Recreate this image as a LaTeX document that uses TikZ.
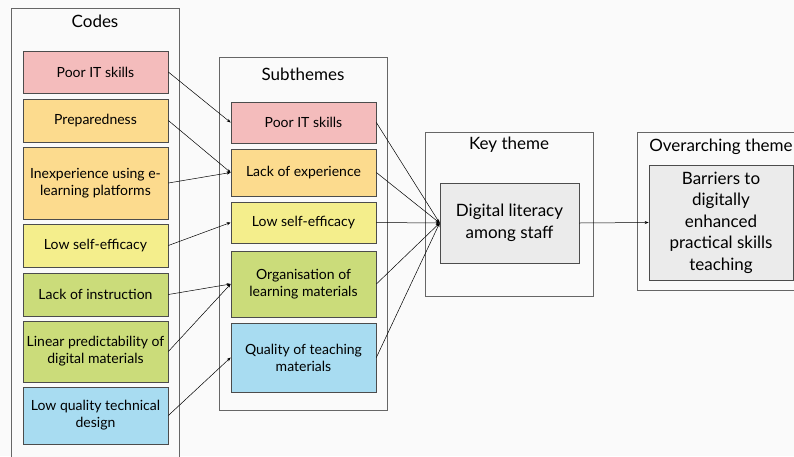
\documentclass[tikz,border=0pt]{standalone}
\usepackage{fontspec}
\setmainfont{Lato}
\usepackage{tikz}
\usetikzlibrary{positioning,arrows.meta}

\definecolor{pinkc}{HTML}{F4BCBC}
\definecolor{orangec}{HTML}{FCDB8E}
\definecolor{yellowc}{HTML}{F4EE8C}
\definecolor{greenc}{HTML}{CBDC7A}
\definecolor{bluec}{HTML}{A8DCF1}
\definecolor{greyc}{HTML}{EBEBEB}
\definecolor{bgc}{HTML}{FAFAFA}

\tikzset{
  codebox/.style={draw=black!70, line width=0.7pt, minimum width=145pt,
                  align=center, font=\fontsize{14}{17}\selectfont, inner sep=1pt},
  themebox/.style={draw=black!70, line width=0.7pt, fill=greyc, align=center,
                   font=\fontsize{17}{21.5}\selectfont, inner sep=1pt},
  outerbox/.style={draw=black!60, line width=0.8pt, fill=bgc},
  title/.style={font=\fontsize{17}{20}\selectfont},
  link/.style={-{Stealth[length=4pt,width=3pt]}, line width=0.5pt}
}

\begin{document}
\begin{tikzpicture}[x=1pt, y=-1pt]
      \useasboundingbox (0, 0) rectangle (794, 456);
      \fill [bgc] (0, 0) rectangle (794, 456);
      % columns
      \draw [outerbox] (11, 8) rectangle (179, 470);
      \draw [outerbox] (219, 57) rectangle (387, 410);
      \draw [outerbox] (425, 132) rectangle (593, 296);
      \draw [outerbox] (637, 132) rectangle (810, 290);
      \node [title] (tcodes) at (95, 21) {Codes};
      \node [title] (tsub) at (303, 74) {Subthemes};
      \node [title] (tkey) at (509, 145) {Key theme};
      \node [title] (tover) at (721, 147) {Overarching theme};
      % codes
      \node [codebox, fill=pinkc, minimum height=42pt] (c1) at (95.5, 72) {Poor IT skills};
      \node [codebox, fill=orangec, minimum height=43pt] (c2) at (95.5, 120.5) {Preparedness};
      \node [codebox, fill=orangec, minimum height=72pt] (c3) at (95.5, 183) {Inexperience using e-\\learning platforms};
      \node [codebox, fill=yellowc, minimum height=43pt] (c4) at (95.5, 245.5) {Low self-efficacy};
      \node [codebox, fill=greenc, minimum height=43pt] (c5) at (95.5, 294.5) {Lack of instruction};
      \node [codebox, fill=greenc, minimum height=61pt] (c6) at (95.5, 351.5) {Linear predictability of\\digital materials};
      \node [codebox, fill=bluec, minimum height=57pt] (c7) at (95.5, 415.5) {Low quality technical\\design};
      % subthemes
      \node [codebox, fill=pinkc, minimum height=41pt] (s1) at (303.5, 122.5) {Poor IT skills};
      \node [codebox, fill=orangec, minimum height=47pt] (s2) at (303.5, 172.5) {Lack of experience};
      \node [codebox, fill=yellowc, minimum height=41pt] (s3) at (303.5, 222.5) {Low self-efficacy};
      \node [codebox, fill=greenc, minimum height=66pt] (s4) at (303.5, 284) {Organisation of\\learning materials};
      \node [codebox, fill=bluec, minimum height=69pt] (s5) at (303.5, 357.5) {Quality of teaching\\materials};
      % themes
      \node [themebox, minimum width=139pt, minimum height=80pt] (key) at (509.5, 223) {Digital literacy\\among staff};
      \node [themebox, minimum width=144pt, minimum height=115pt] (over) at (721, 222.5) {Barriers to\\digitally\\enhanced\\practical skills\\teaching};
      % links
      \draw [link] (c1.east) -- (s1.west);
      \draw [link] (c2.east) -- (s2.west);
      \draw [link] (c3.east) -- (s2.west);
      \draw [link] (c4.east) -- (s3.west);
      \draw [link] (c5.east) -- (s4.west);
      \draw [link] (c6.east) -- (s4.west);
      \draw [link] (c7.east) -- (s5.west);
      \foreach \s in {s1, s2, s3, s4, s5}
        \draw [link] (\s.east) -- (key.west);
      \draw [link] (key.east) -- (over.west);
\end{tikzpicture}
\end{document}
